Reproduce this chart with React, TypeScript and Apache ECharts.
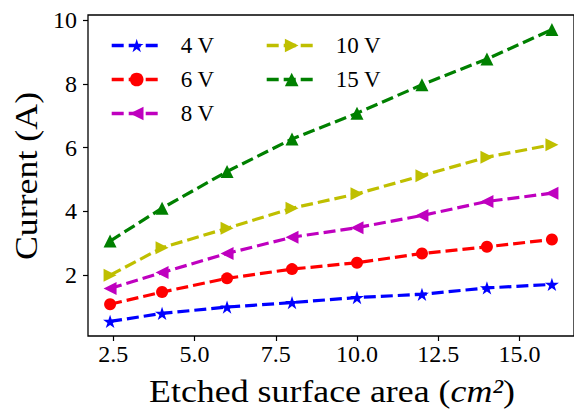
import React, { useEffect, useRef } from "react";
import * as echarts from "echarts";

// Etched surface area (cm^2) at which the current was measured
const areas = [2.4, 4, 6, 8, 10, 12, 14, 16];

// Measured current (A) for each applied voltage
const current4V = [0.55, 0.8, 1.0, 1.14, 1.3, 1.4, 1.6, 1.71];
const current6V = [1.09, 1.47, 1.9, 2.19, 2.39, 2.68, 2.89, 3.12];
const current8V = [1.58, 2.08, 2.68, 3.19, 3.49, 3.87, 4.31, 4.57];
const current10V = [2.0, 2.86, 3.47, 4.1, 4.55, 5.12, 5.7, 6.09];
const current15V = [3.07, 4.1, 5.25, 6.27, 7.08, 7.97, 8.78, 9.7];

const seriesNames = ["4 V", "6 V", "8 V", "10 V", "15 V"];

const xTicks = [2.5, 5.0, 7.5, 10.0, 12.5, 15.0];
const yTicks = [2, 4, 6, 8, 10];

const FONT = "'Liberation Serif', serif";

const STAR =
  "path://M0,-100L22.45,-30.9L95.1,-30.9L36.3,11.8L58.8,80.9L0,38.2L-58.8,80.9L-36.3,11.8L-95.1,-30.9L-22.45,-30.9Z";

const styles = [
  { color: "#0000ff", symbol: STAR, rotate: 0, size: 14 },
  { color: "#ff0000", symbol: "circle", rotate: 0, size: 12 },
  { color: "#bf00bf", symbol: "triangle", rotate: 90, size: 13 },
  { color: "#bfbf00", symbol: "triangle", rotate: -90, size: 13 },
  { color: "#008000", symbol: "triangle", rotate: 0, size: 13 },
];

const allSeries = [current4V, current6V, current8V, current10V, current15V];

export default function App() {
  const ref = useRef<HTMLDivElement>(null);

  useEffect(() => {
    if (!ref.current) return;
    const chart = echarts.init(ref.current, null, { renderer: "svg" });

    const legendPos = [
      { left: 110, top: 34 },
      { left: 110, top: 68 },
      { left: 110, top: 102 },
      { left: 265, top: 34 },
      { left: 265, top: 68 },
    ];

    chart.setOption({
      animation: false,
      backgroundColor: "#ffffff",
      textStyle: { fontFamily: FONT, color: "#000" },
      grid: {
        left: 88,
        top: 15,
        width: 495,
        height: 321,
        show: true,
        borderColor: "#000",
        borderWidth: 1.3,
        backgroundColor: "transparent",
      },
      legend: seriesNames.map((name, i) => ({
        data: [name],
        left: legendPos[i].left,
        top: legendPos[i].top,
        padding: 0,
        itemWidth: 50,
        itemHeight: 17,
        selectedMode: false,
        lineStyle: { width: 3.4, type: [12, 5] },
        textStyle: {
          fontFamily: FONT,
          fontSize: 23,
          color: "#000",
          padding: [0, 0, 0, 14],
        },
      })),
      xAxis: {
        type: "value",
        min: 1.72,
        max: 16.68,
        splitLine: { show: false },
        axisLine: { show: false },
        axisTick: {
          show: true,
          length: 5,
          customValues: xTicks,
          lineStyle: { color: "#000", width: 1.2 },
        },
        axisLabel: {
          customValues: xTicks,
          formatter: (v: number) => v.toFixed(1),
          fontFamily: FONT,
          fontSize: 24,
          color: "#000",
          margin: 6,
        },
      },
      yAxis: {
        type: "value",
        min: 0.0925,
        max: 10.1575,
        splitLine: { show: false },
        axisLine: { show: false },
        axisTick: {
          show: true,
          length: 5,
          customValues: yTicks,
          lineStyle: { color: "#000", width: 1.2 },
        },
        axisLabel: {
          customValues: yTicks,
          formatter: (v: number) => String(Math.round(v)),
          fontFamily: FONT,
          fontSize: 24,
          color: "#000",
          margin: 11,
        },
      },
      graphic: [
        {
          type: "text",
          x: 332,
          y: 391,
          scaleX: 1.12,
          style: {
            text: "Etched surface area ({i|cm²})",
            fontFamily: FONT,
            fontSize: 32,
            fill: "#000",
            align: "center",
            verticalAlign: "middle",
            rich: {
              i: { fontFamily: FONT, fontSize: 32, fontStyle: "italic", fill: "#000" },
            },
          },
        },
        {
          type: "text",
          x: 26.5,
          y: 176,
          rotation: Math.PI / 2,
          scaleX: 1.12,
          style: {
            text: "Current (A)",
            fontFamily: FONT,
            fontSize: 32,
            fill: "#000",
            align: "center",
            verticalAlign: "middle",
          },
        },
      ],
      series: allSeries.map((vals, i) => ({
        name: seriesNames[i],
        type: "line",
        data: areas.map((a, k) => [a, vals[k]]),
        symbol: styles[i].symbol,
        symbolSize: styles[i].size,
        symbolRotate: styles[i].rotate,
        symbolKeepAspect: true,
        showAllSymbol: true,
        lineStyle: { color: styles[i].color, width: 3.2, type: [12, 5] },
        itemStyle: { color: styles[i].color },
        emphasis: { disabled: true },
        z: 2 + i,
      })),
    });

    return () => chart.dispose();
  }, []);

  return (
    <div
      ref={ref}
      style={{ position: "fixed", left: 0, top: 0, width: 574, height: 411 }}
    />
  );
}
